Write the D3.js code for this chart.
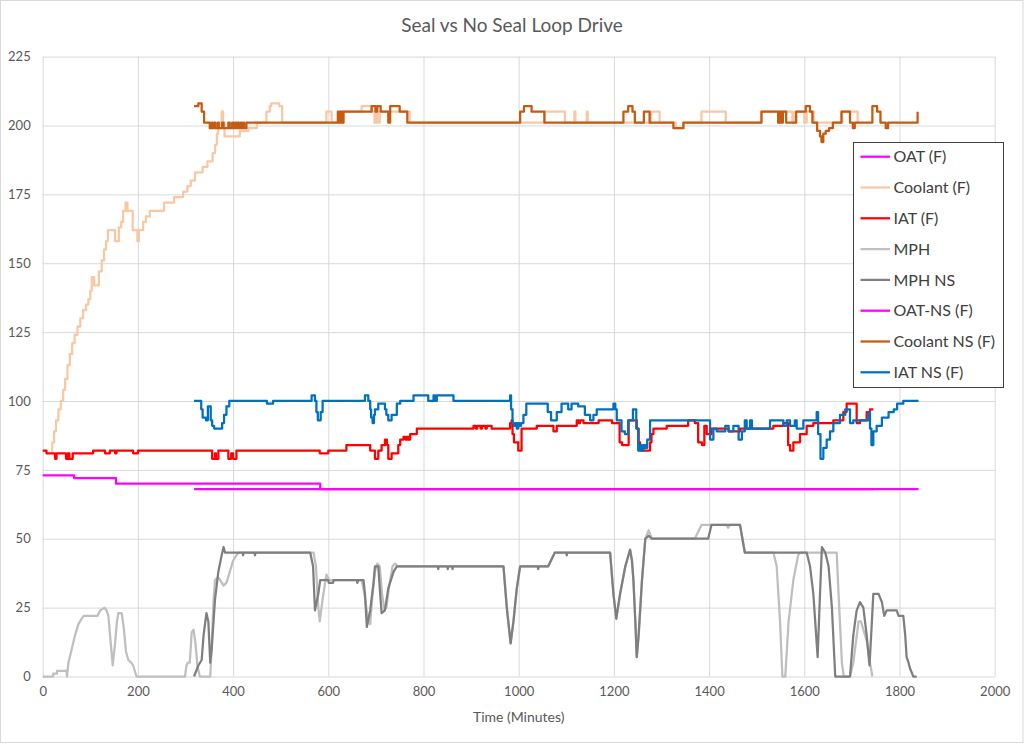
<!DOCTYPE html>
<html><head><meta charset="utf-8">
<script src="https://cdn.jsdelivr.net/npm/d3@7"></script>
<style>body{margin:0;background:#fff} svg{display:block} text{font-family:Lato,"Open Sans",sans-serif}</style>
</head><body><svg id="c" width="1024" height="744"></svg>
<script>
const chartTitle = "Seal vs No Seal Loop Drive";
const xTitle = "Time (Minutes)";
const xTicks = [0,200,400,600,800,1000,1200,1400,1600,1800,2000];
const yTicks = [0,25,50,75,100,125,150,175,200,225];
const seriesNames = ["OAT (F)","Coolant (F)","IAT (F)","MPH","MPH NS","OAT-NS (F)","Coolant NS (F)","IAT NS (F)"];
const seriesColors = ["#ff00ff","#f8c7a4","#ff0000","#bfbfbf","#7f7f7f","#ff00ff","#c55a11","#0070c0"];

const oat = [[0,73],[66,72],[154,70],[583,68],[1745,68]];
const coolant = [[17,82],[20,85],[24,89],[28,93],[33,97],[38,100],[43,104],[47,108],[52,113],[57,117],[62,121],[67,124],[73,127],[79,130],[85,133],[91,135],[96,137],[100,140],[103,145],[108,142],[118,147],[124,151],[129,155],[133,158],[137,162],[152,158],[160,163],[165,165],[169,169],[174,172],[178,169],[189,162],[199,158],[202,162],[211,165],[217,167],[225,169],[255,172],[276,174],[295,176],[304,178],[311,180],[320,183],[336,185],[346,187],[357,190],[362,193],[366,197],[369,200],[373,201],[376,205],[379,201],[382,196],[414,198],[432,199],[450,201],[470,205],[477,207],[480,208],[497,207],[503,201],[596,205],[607,201],[631,205],[670,207],[691,205],[697,201],[700,205],[703,201],[708,205],[771,201],[1054,205],[1097,201],[1117,205],[1119,201],[1143,205],[1145,201],[1278,205],[1296,201],[1330,199],[1346,201],[1384,205],[1435,201],[1510,205],[1545,201],[1548,205],[1575,201],[1580,205],[1600,201],[1605,205],[1620,201],[1680,205],[1712,201],[1714,201]];
const iat = [[0,82],[8,81],[26,79],[29,81],[49,79],[53,81],[56,79],[63,81],[106,82],[131,81],[141,82],[152,81],[155,82],[190,81],[200,82],[356,79],[362,81],[364,79],[369,82],[390,79],[396,81],[400,79],[407,82],[582,81],[600,82],[638,84],[688,82],[698,79],[705,82],[712,84],[719,86],[723,84],[726,79],[733,81],[747,84],[751,86],[758,87],[762,86],[765,87],[768,86],[772,88],[786,90],[905,91],[910,90],[913,91],[920,90],[923,91],[930,90],[933,91],[943,90],[982,92],[985,93],[987,88],[990,85],[999,82],[1006,90],[1038,91],[1073,89],[1080,91],[1122,93],[1126,92],[1129,93],[1136,92],[1168,93],[1196,92],[1212,85],[1217,84],[1231,93],[1248,90],[1252,85],[1255,82],[1276,85],[1279,88],[1283,90],[1311,91],[1356,93],[1370,92],[1377,85],[1385,84],[1390,91],[1395,88],[1405,90],[1441,89],[1465,90],[1535,91],[1556,92],[1566,84],[1570,82],[1577,85],[1591,88],[1605,91],[1619,92],[1661,93],[1682,96],[1689,99],[1710,92],[1717,93],[1731,96],[1738,97],[1745,97]];
const mph = [[0,0],[22,0],[22,1],[30,1],[30,2],[50,2],[51,0],[54,5],[61,10],[68,15],[75,19],[82,21],[86,22],[115,22],[121,24],[130,25],[134,24],[138,22],[143,12],[147,4],[152,12],[156,20],[159,23],[166,23],[170,18],[175,9],[180,6],[186,5],[190,4],[197,0],[299,0],[302,4],[305,5],[309,5],[313,16],[317,17],[321,12],[325,4],[330,0],[352,0],[356,15],[359,28],[362,35],[368,36],[373,35],[380,33],[386,34],[393,38],[400,42],[407,44],[412,45],[569,45],[574,40],[579,25],[582,20],[588,28],[596,37],[602,35],[670,35],[676,30],[684,20],[688,19],[692,28],[698,38],[703,41],[708,40],[713,30],[718,24],[722,25],[728,33],[735,40],[740,41],[746,40],[968,40],[975,25],[983,12],[989,20],[996,32],[1003,40],[1062,40],[1076,45],[1192,45],[1199,30],[1205,21],[1213,30],[1224,40],[1234,46],[1238,42],[1241,35],[1245,20],[1248,7],[1252,15],[1259,35],[1266,50],[1273,53],[1280,50],[1370,50],[1384,55],[1437,55],[1440,54],[1443,55],[1465,55],[1475,45],[1535,45],[1542,40],[1549,20],[1554,0],[1560,0],[1567,20],[1577,35],[1587,44],[1591,45],[1668,45],[1672,30],[1679,5],[1683,0],[1696,0],[1703,5],[1714,20],[1719,20],[1724,17],[1731,13],[1738,5],[1743,0]];
const mphNS = [[318,0],[327,4],[334,6],[338,15],[344,23],[348,20],[352,5],[355,10],[362,28],[369,38],[376,44],[380,47],[383,45],[420,45],[421,44],[422,45],[445,45],[446,44],[447,45],[562,45],[568,40],[572,24],[579,30],[583,35],[600,35],[601,34],[610,34],[611,35],[660,35],[661,34],[663,35],[674,35],[677,30],[681,18],[688,24],[695,34],[698,40],[705,40],[709,30],[712,23],[719,24],[726,32],[737,38],[744,40],[830,40],[831,39],[832,40],[850,40],[851,39],[852,40],[860,40],[861,39],[862,40],[968,40],[975,25],[983,12],[989,20],[996,32],[1003,40],[1040,40],[1041,39],[1042,40],[1062,40],[1076,45],[1100,45],[1101,44],[1102,45],[1192,45],[1199,30],[1205,21],[1213,30],[1224,40],[1234,46],[1238,42],[1241,35],[1245,20],[1248,7],[1252,15],[1259,35],[1266,50],[1273,51],[1280,50],[1398,50],[1405,55],[1465,55],[1475,45],[1605,45],[1612,40],[1619,30],[1628,7],[1633,30],[1637,47],[1644,45],[1651,40],[1658,25],[1665,0],[1696,0],[1703,15],[1710,24],[1717,27],[1724,25],[1731,15],[1737,4],[1742,20],[1745,30],[1756,30],[1763,27],[1768,22],[1773,24],[1794,24],[1798,22],[1808,22],[1812,15],[1815,7],[1819,5],[1822,3],[1829,0],[1836,0]];
const oatNS = [[318,68],[1840,68]];
const coolantNS = [[318,207],[327,208],[334,205],[339,201],[351,199],[355,201],[357,199],[361,201],[363,199],[368,201],[370,199],[377,201],[380,199],[390,201],[393,199],[398,201],[400,199],[404,201],[407,199],[410,201],[412,199],[416,201],[418,199],[421,201],[423,199],[428,201],[620,205],[622,201],[624,205],[626,201],[628,205],[630,201],[632,205],[691,207],[699,205],[703,207],[710,205],[726,201],[730,207],[750,205],[766,201],[1003,205],[1011,207],[1027,205],[1054,201],[1220,205],[1230,207],[1239,205],[1244,201],[1263,205],[1275,201],[1325,199],[1346,201],[1510,205],[1545,201],[1547,205],[1549,201],[1551,205],[1553,201],[1555,205],[1562,201],[1583,205],[1603,207],[1612,205],[1617,201],[1627,198],[1633,196],[1636,194],[1640,197],[1645,198],[1652,199],[1660,201],[1678,205],[1696,201],[1702,199],[1706,201],[1743,207],[1753,205],[1760,201],[1771,199],[1776,201],[1838,201],[1838,205]];
const iatNS = [[318,100],[333,97],[336,94],[343,93],[347,98],[350,98],[353,93],[356,91],[360,90],[377,92],[381,95],[386,98],[392,100],[471,99],[484,100],[565,102],[572,100],[575,96],[578,93],[584,96],[588,100],[677,102],[684,100],[688,97],[690,94],[693,92],[696,95],[698,97],[705,99],[719,97],[722,95],[726,93],[733,95],[740,95],[744,99],[751,100],[779,102],[810,100],[821,102],[824,100],[828,102],[863,100],[982,102],[984,97],[987,92],[990,91],[993,92],[996,90],[999,92],[1002,91],[1005,92],[1010,95],[1016,99],[1061,96],[1068,93],[1072,93],[1080,96],[1090,99],[1104,97],[1111,99],[1125,98],[1139,95],[1150,93],[1157,95],[1164,97],[1199,99],[1203,97],[1206,93],[1216,89],[1223,88],[1230,93],[1240,97],[1247,90],[1251,82],[1254,84],[1258,82],[1262,84],[1266,83],[1270,86],[1276,93],[1402,86],[1409,90],[1416,89],[1434,91],[1441,89],[1451,91],[1462,86],[1469,89],[1475,93],[1479,90],[1486,93],[1490,90],[1528,93],[1556,91],[1563,93],[1570,91],[1580,93],[1584,90],[1598,93],[1626,96],[1629,88],[1634,79],[1640,83],[1647,86],[1654,89],[1661,92],[1675,95],[1686,97],[1696,92],[1703,93],[1735,96],[1738,90],[1741,84],[1745,89],[1752,91],[1763,94],[1777,96],[1788,97],[1795,99],[1808,100],[1840,100]];

const seriesData = [oat, coolant, iat, mph, mphNS, oatNS, coolantNS, iatNS];
const stepped = [true,true,true,false,false,true,true,true];

const svg = d3.select("#c");
svg.append("rect").attr("x",0.5).attr("y",0.5).attr("width",1022.5).attr("height",742).attr("fill","#fff").attr("stroke","#d9d9d9");

const x = d3.scaleLinear().domain([0,2000]).range([42.7,994.7]);
const y = d3.scaleLinear().domain([0,225]).range([676.5,56.6]);

// gridlines
const gx = svg.append("g").attr("transform","translate(0,676.5)")
  .call(d3.axisBottom(x).tickValues(xTicks).tickSize(-(676.5-56.6)).tickFormat(d3.format("d")).tickPadding(10));
gx.select(".domain").remove();
gx.selectAll("line").attr("stroke","#d9d9d9").attr("stroke-width",1);
gx.selectAll("text").attr("fill","#595959").style("font-size","13px").attr("dy","0.71em");

const gy = svg.append("g").attr("transform","translate(42.7,0)")
  .call(d3.axisLeft(y).tickValues(yTicks).tickSize(-(994.7-42.7)).tickPadding(12));
gy.select(".domain").remove();
gy.selectAll("line").attr("stroke","#d9d9d9").attr("stroke-width",1);
gy.selectAll("text").attr("fill","#595959").style("font-size","13px");

// series
seriesData.forEach((data,i)=>{
  const line = d3.line().x(d=>x(d[0])).y(d=>y(d[1])).curve(stepped[i]?d3.curveStepAfter:d3.curveLinear);
  svg.append("path").datum(data).attr("d",line).attr("fill","none")
    .attr("stroke",seriesColors[i]).attr("stroke-width",2.25).attr("stroke-linejoin","round");
});

// title
svg.append("text").attr("x",512).attr("y",32).attr("text-anchor","middle")
  .attr("fill","#595959").style("font-size","19px").text(chartTitle);
svg.append("text").attr("x",518.7).attr("y",722).attr("text-anchor","middle")
  .attr("fill","#595959").style("font-size","14px").text(xTitle);

// legend
const lg = svg.append("g");
lg.append("rect").attr("x",853.5).attr("y",142.5).attr("width",150).attr("height",245)
  .attr("fill","#fff").attr("stroke","#404040").attr("stroke-width",1);
seriesNames.forEach((n,i)=>{
  const cy = 156.7 + i*30.8;
  lg.append("line").attr("x1",860.5).attr("x2",890).attr("y1",cy).attr("y2",cy)
    .attr("stroke",seriesColors[i]).attr("stroke-width",2.25);
  lg.append("text").attr("x",893.5).attr("y",cy).attr("dy","0.35em")
    .attr("fill","#404040").style("font-size","16px").text(n);
});
</script></body></html>
